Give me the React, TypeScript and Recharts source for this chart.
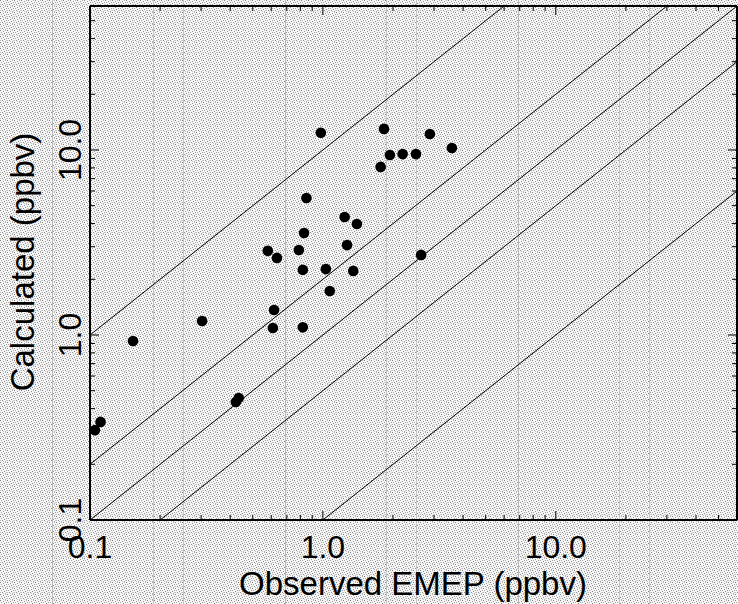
import React from "react"
import { ScatterChart, Scatter, XAxis, YAxis, ReferenceLine } from "recharts"

// observed (x) vs calculated (y), ppbv
const observed = [
  0.105, 0.111, 0.153, 0.303, 0.423, 0.435, 0.61, 0.617, 0.58, 0.635, 0.789, 0.82, 0.82, 0.83, 0.85,
  0.98, 1.03, 1.07, 1.24, 1.27, 1.4, 1.35, 1.77, 1.83, 1.94, 2.2, 2.51, 2.64, 2.88, 3.58,
]
const calculated = [
  0.306, 0.339, 0.928, 1.19, 0.434, 0.456, 1.09, 1.365, 2.85, 2.61, 2.88, 2.25, 1.1, 3.56, 5.5,
  12.4, 2.27, 1.73, 4.34, 3.06, 3.98, 2.22, 8.1, 13.0, 9.4, 9.5, 9.5, 2.71, 12.2, 10.25,
]

// ratio lines y = k * x
const ratios = [10, 2, 1, 0.5, 0.1]

const axisMin = 0.1
const axisMax = 60
const logTicks = [
  0.1, 0.2, 0.3, 0.4, 0.5, 0.6, 0.7, 0.8, 0.9, 1, 2, 3, 4, 5, 6, 7, 8, 9, 10, 20, 30, 40, 50,
]
const majorTicks = [0.1, 1, 10]
const majorLabels = ["0.1", "1.0", "10.0"]

const points = observed.map((x, i) => ({ x, y: calculated[i] }))

const FONT = "'Liberation Sans', Arial, Helvetica, sans-serif"

const isMajor = (v: number) => majorTicks.some((m) => Math.abs(m - v) < 1e-9)
const labelOf = (v: number) => majorLabels[majorTicks.findIndex((m) => Math.abs(m - v) < 1e-9)]

const BottomTick = ({ x, y, payload }: any) => {
  const major = isMajor(payload.value)
  return (
    <g>
      <line x1={x} x2={x} y1={y} y2={y - (major ? 9 : 5)} stroke="#000" strokeWidth={1} />
      {major && (
        <text x={x} y={y + 38} textAnchor="middle" fontSize={32} fontFamily={FONT} fill="#000">
          {labelOf(payload.value)}
        </text>
      )}
    </g>
  )
}

const TopTick = ({ x, y, payload }: any) => {
  const major = isMajor(payload.value)
  return <line x1={x} x2={x} y1={y} y2={y + (major ? 9 : 5)} stroke="#000" strokeWidth={1} />
}

const LeftTick = ({ x, y, payload }: any) => {
  const major = isMajor(payload.value)
  return (
    <g>
      <line x1={x} x2={x + (major ? 9 : 5)} y1={y} y2={y} stroke="#000" strokeWidth={1} />
      {major && (
        <text
          x={81}
          y={y}
          transform={`rotate(-90, 81, ${y})`}
          textAnchor="middle"
          fontSize={32}
          fontFamily={FONT}
          fill="#000"
        >
          {labelOf(payload.value)}
        </text>
      )}
    </g>
  )
}

const RightTick = ({ x, y, payload }: any) => {
  const major = isMajor(payload.value)
  return <line x1={x} x2={x - (major ? 9 : 5)} y1={y} y2={y} stroke="#000" strokeWidth={1} />
}

const Dot = (props: any) => <circle cx={props.cx} cy={props.cy} r={5.3} fill="#000" />

function Background() {
  return (
    <svg width={738} height={604} style={{ position: "absolute", left: 0, top: 0 }}>
      <defs>
        <pattern id="stipple" width={7} height={6} patternUnits="userSpaceOnUse">
          <rect width={7} height={6} fill="#f6f6f6" />
          <rect x={0} y={0} width={1} height={1} fill="#7c7c7c" />
          <rect x={3} y={1} width={1} height={1} fill="#949494" />
          <rect x={5} y={0} width={1} height={1} fill="#b4b4b4" />
          <rect x={1} y={2} width={1} height={1} fill="#a8a8a8" />
          <rect x={4} y={3} width={1} height={1} fill="#848484" />
          <rect x={6} y={2} width={1} height={1} fill="#9c9c9c" />
          <rect x={2} y={4} width={1} height={1} fill="#8e8e8e" />
          <rect x={5} y={5} width={1} height={1} fill="#acacac" />
          <rect x={0} y={4} width={1} height={1} fill="#bcbcbc" />
          <rect x={3} y={5} width={1} height={1} fill="#c4c4c4" />
          <rect x={6} y={4} width={1} height={1} fill="#cccccc" />
        </pattern>
        <pattern id="vlines" x={52} y={0} width={233} height={604} patternUnits="userSpaceOnUse">
          <rect x={0} y={0} width={1} height={604} fill="#b8b8b8" />
          <rect x={101} y={0} width={1} height={604} fill="#c4c4c4" />
          <rect x={131} y={0} width={1} height={604} fill="#c4c4c4" />
        </pattern>
      </defs>
      <rect width={738} height={604} fill="url(#stipple)" />
      <rect width={738} height={604} fill="url(#vlines)" />
    </svg>
  )
}

export default function App() {
  return (
    <div style={{ position: "absolute", left: 0, top: 0, width: 738, height: 604 }}>
      <Background />
      <div style={{ position: "absolute", left: 0, top: 0 }}>
        <ScatterChart width={738} height={604} margin={{ top: 5, right: 0, bottom: 83, left: 89 }}>
          <XAxis
            dataKey="x"
            type="number"
            scale="log"
            domain={[axisMin, axisMax]}
            allowDataOverflow
            ticks={logTicks}
            interval={0}
            height={1}
            tickSize={0}
            tickMargin={0}
            tickLine={false}
            axisLine={{ stroke: "#000", strokeWidth: 2 }}
            tick={<BottomTick />}
          />
          <XAxis
            xAxisId="top"
            orientation="top"
            dataKey="x"
            type="number"
            scale="log"
            domain={[axisMin, axisMax]}
            allowDataOverflow
            ticks={logTicks}
            interval={0}
            height={1}
            tickSize={0}
            tickMargin={0}
            tickLine={false}
            axisLine={{ stroke: "#000", strokeWidth: 2 }}
            tick={<TopTick />}
          />
          <YAxis
            dataKey="y"
            type="number"
            scale="log"
            domain={[axisMin, axisMax]}
            allowDataOverflow
            ticks={logTicks}
            interval={0}
            width={1}
            tickSize={0}
            tickMargin={0}
            tickLine={false}
            axisLine={{ stroke: "#000", strokeWidth: 2 }}
            tick={<LeftTick />}
          />
          <YAxis
            yAxisId="right"
            orientation="right"
            dataKey="y"
            type="number"
            scale="log"
            domain={[axisMin, axisMax]}
            allowDataOverflow
            ticks={logTicks}
            interval={0}
            width={1}
            tickSize={0}
            tickMargin={0}
            tickLine={false}
            axisLine={{ stroke: "#000", strokeWidth: 2 }}
            tick={<RightTick />}
          />
          {ratios.map((k) => (
            <ReferenceLine
              key={k}
              segment={[
                { x: Math.max(axisMin, axisMin / k), y: Math.max(axisMin, axisMin / k) * k },
                { x: Math.min(axisMax, axisMax / k), y: Math.min(axisMax, axisMax / k) * k },
              ]}
              stroke="#000"
              strokeWidth={1}
            />
          ))}
          <Scatter data={points} shape={<Dot />} isAnimationActive={false} />
          <text x={413} y={595} textAnchor="middle" fontSize={33} fontFamily={FONT} fill="#000">
            Observed EMEP (ppbv)
          </text>
          <text
            x={34}
            y={262}
            transform="rotate(-90, 34, 262)"
            textAnchor="middle"
            fontSize={33}
            fontFamily={FONT}
            fill="#000"
          >
            Calculated (ppbv)
          </text>
        </ScatterChart>
      </div>
    </div>
  )
}
